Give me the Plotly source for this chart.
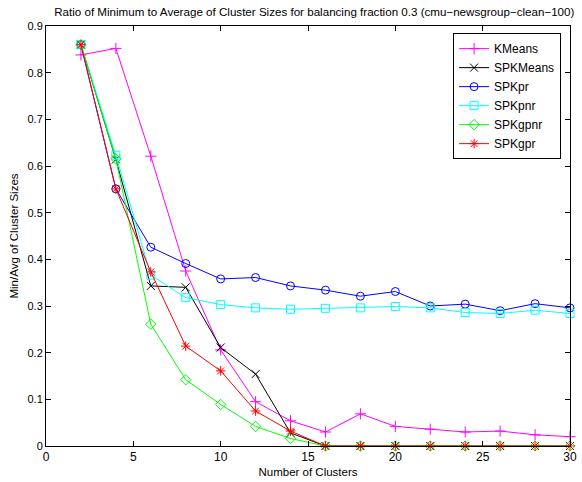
import plotly.graph_objects as go

clusters = [2, 4, 6, 8, 10, 12, 14, 16, 18, 20, 22, 24, 26, 28, 30]
kmeans   = [0.838, 0.852, 0.621, 0.375, 0.206, 0.095, 0.054, 0.030, 0.069, 0.042, 0.036, 0.030, 0.032, 0.024, 0.020]
spkmeans = [0.860, 0.614, 0.343, 0.340, 0.211, 0.154, 0.028, 0, 0, 0, 0, 0, 0, 0, 0]
spkpr    = [0.860, 0.551, 0.426, 0.391, 0.358, 0.361, 0.343, 0.334, 0.321, 0.331, 0.300, 0.304, 0.290, 0.305, 0.296]
spkpnr   = [0.860, 0.623, 0.366, 0.318, 0.303, 0.296, 0.293, 0.295, 0.296, 0.299, 0.296, 0.286, 0.284, 0.291, 0.284]
spkgpnr  = [0.860, 0.615, 0.261, 0.142, 0.089, 0.042, 0.016, 0, 0, 0, 0, 0, 0, 0, 0]
spkgpr   = [0.860, 0.551, 0.373, 0.214, 0.161, 0.075, 0.032, 0, 0, 0, 0, 0, 0, 0, 0]

series = [
    ("KMeans", kmeans, "#ff00ff", "cross-thin-open"),
    ("SPKMeans", spkmeans, "#000000", "x-thin-open"),
    ("SPKpr", spkpr, "#0000ff", "circle-open"),
    ("SPKpnr", spkpnr, "#00ffff", "square-open"),
    ("SPKgpnr", spkgpnr, "#00ff00", "diamond-open"),
    ("SPKgpr", spkgpr, "#ff0000", "asterisk-open"),
]

fig = go.Figure()
for name, vals, col, sym in series:
    fig.add_trace(go.Scatter(
        x=clusters, y=vals, name=name, mode="lines+markers",
        line=dict(color=col, width=1),
        marker=dict(symbol=sym, size=8, color=col, line=dict(color=col, width=1)),
        cliponaxis=False,
    ))

font = "Liberation Sans, Arial, sans-serif"
fig.update_layout(
    width=582, height=482,
    margin=dict(l=46, r=5, t=26, b=36),
    paper_bgcolor="white", plot_bgcolor="white",
    font=dict(family=font, size=11, color="black"),
    title=dict(text="Ratio of Minimum to Average of Cluster Sizes for balancing fraction 0.3 (cmu\u2212newsgroup\u2212clean\u2212100)",
               x=0.54, xanchor="center", y=0.975, yanchor="middle", font=dict(size=11.6)),
    showlegend=True,
    legend=dict(x=0.983, y=0.983, xanchor="right", yanchor="top",
                bordercolor="black", borderwidth=1, bgcolor="white",
                font=dict(size=12), tracegroupgap=0),
)
fig.update_xaxes(range=[0, 30], tickvals=[0, 5, 10, 15, 20, 25, 30],
                 ticks="inside", ticklen=5, tickcolor="black", mirror="ticks",
                 ticklabeloverflow="allow",
                 showline=True, linecolor="black", linewidth=1, showgrid=False, zeroline=False,
                 tickfont=dict(size=12),
                 title=dict(text="Number of Clusters", standoff=4, font=dict(size=11.5)))
fig.update_yaxes(range=[0, 0.9], tickvals=[0, 0.1, 0.2, 0.3, 0.4, 0.5, 0.6, 0.7, 0.8, 0.9],
                 ticktext=["0", "0.1", "0.2", "0.3", "0.4", "0.5", "0.6", "0.7", "0.8", "0.9"],
                 ticks="inside", ticklen=5, tickcolor="black", mirror="ticks",
                 ticklabeloverflow="allow",
                 showline=True, linecolor="black", linewidth=1, showgrid=False, zeroline=False,
                 tickfont=dict(size=11),
                 title=dict(text="Min/Avg of Cluster Sizes", standoff=6, font=dict(size=11.5)))

fig.write_html("out.html")
